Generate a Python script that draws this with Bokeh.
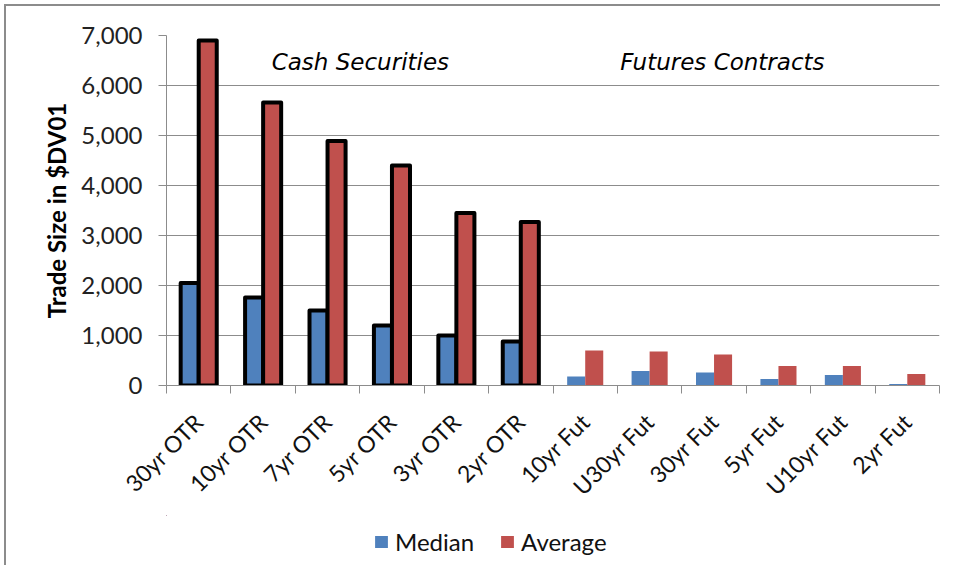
import math
from bokeh.plotting import figure
from bokeh.layouts import column
from bokeh.models import (Range1d, FixedTicker, NumeralTickFormatter, Legend, LegendItem,
                          Label, ColumnDataSource)
from bokeh.embed import file_html
from bokeh.resources import INLINE

categories = ["30yr OTR", "10yr OTR", "7yr OTR", "5yr OTR", "3yr OTR", "2yr OTR",
              "10yr Fut", "U30yr Fut", "30yr Fut", "5yr Fut", "U10yr Fut", "2yr Fut"]
median = [2050, 1760, 1500, 1200, 1000, 880, 180, 290, 260, 130, 210, 30]
average = [6900, 5660, 4890, 4400, 3450, 3270, 700, 680, 620, 390, 390, 230]
n_cash = 6
y_ticks = [0, 1000, 2000, 3000, 4000, 5000, 6000, 7000]
series_names = ["Median", "Average"]

BLUE = "#4F81BD"
RED = "#C0504D"
GRID = "#8c8c8c"
FONT = "Lato"
FONT2 = "DejaVu Sans"

n = len(categories)
centers = list(range(n))
bounds = [i - 0.5 for i in range(n + 1)]
bw = 0.28

p = figure(width=934, height=509, output_backend="svg", toolbar_location=None,
           x_range=Range1d(-0.5, n - 0.5), y_range=Range1d(0, 7000),
           min_border_left=160, min_border_right=1, min_border_top=29, min_border_bottom=130)
p.outline_line_color = None
p.background_fill_color = "white"
p.border_fill_color = "white"

cash = ColumnDataSource(dict(xm=[c - bw / 2 for c in centers[:n_cash]],
                             xa=[c + bw / 2 for c in centers[:n_cash]],
                             med=median[:n_cash], avg=average[:n_cash]))
fut = ColumnDataSource(dict(xm=[c - bw / 2 for c in centers[n_cash:]],
                            xa=[c + bw / 2 for c in centers[n_cash:]],
                            med=median[n_cash:], avg=average[n_cash:]))

p.vbar(x="xm", top="med", bottom=0, width=bw, source=fut, fill_color=BLUE, line_color=None)
p.vbar(x="xa", top="avg", bottom=0, width=bw, source=fut, fill_color=RED, line_color=None)
p.vbar(x="xm", top="med", bottom=0, width=bw, source=cash, fill_color=BLUE,
       line_color="black", line_width=4, line_join="round")
p.vbar(x="xa", top="avg", bottom=0, width=bw, source=cash, fill_color=RED,
       line_color="black", line_width=4, line_join="round")

# x axis
xa = p.xaxis[0]
xa.ticker = FixedTicker(ticks=centers, minor_ticks=bounds)
xa.major_label_overrides = {c: lab for c, lab in zip(centers, categories)}
xa.major_label_orientation = math.pi / 4
xa.major_tick_out = 0
xa.major_tick_in = 0
xa.minor_tick_out = 8
xa.minor_tick_in = 0
xa.minor_tick_line_color = GRID
xa.axis_line_color = GRID
xa.major_label_text_font = FONT
xa.major_label_text_font_size = "23px"
xa.major_label_text_color = "#111111"
xa.major_label_standoff = 24

# y axis
ya = p.yaxis[0]
ya.ticker = FixedTicker(ticks=y_ticks)
ya.formatter = NumeralTickFormatter(format="0,0")
ya.major_tick_out = 8
ya.major_tick_in = 0
ya.minor_tick_line_color = None
ya.major_tick_line_color = GRID
ya.axis_line_color = GRID
ya.major_label_text_font = FONT
ya.major_label_text_font_size = "24px"
ya.major_label_text_color = "#222222"
ya.major_label_standoff = 16
ya.axis_label = "Trade Size in $DV01"
ya.axis_label_text_font = FONT
ya.axis_label_text_font_style = "bold"
ya.axis_label_text_font_size = "24px"
ya.axis_label_text_color = "black"
ya.axis_label_standoff = 7

p.xgrid.grid_line_color = None
p.ygrid.grid_line_color = GRID
p.ygrid.ticker = FixedTicker(ticks=y_ticks)

p.add_layout(Label(x=2.51, y=6480, text="Cash Securities", text_align="center",
                   text_baseline="middle", text_font=FONT2, text_font_style="italic",
                   text_font_size="23px", text_color="black"))
p.add_layout(Label(x=8.13, y=6480, text="Futures Contracts", text_align="center",
                   text_baseline="middle", text_font=FONT2, text_font_style="italic",
                   text_font_size="23px", text_color="black"))

# legend row (separate small figure beneath the chart; its series are kept out of view)
lf = figure(width=934, height=50, output_backend="svg", toolbar_location=None,
            x_range=Range1d(1000, 1001), y_range=Range1d(-100000, -99999),
            min_border=0, min_border_left=0, min_border_right=0,
            min_border_top=0, min_border_bottom=0)
lf.axis.visible = False
lf.grid.grid_line_color = None
lf.outline_line_color = None
r_m = lf.vbar(x="xm", top="med", bottom=0, width=bw, source=fut, fill_color=BLUE, line_color=None)
r_a = lf.vbar(x="xa", top="avg", bottom=0, width=bw, source=fut, fill_color=RED, line_color=None)
legend = Legend(items=[LegendItem(label=series_names[0], renderers=[r_m]),
                       LegendItem(label=series_names[1], renderers=[r_a])],
                orientation="horizontal", location=(207, 9))
legend.label_text_font = FONT
legend.label_text_font_size = "24px"
legend.label_text_color = "#111111"
legend.glyph_width = 16
legend.glyph_height = 15
legend.label_standoff = 6
legend.spacing = 25
legend.padding = 0
legend.margin = 0
legend.border_line_color = None
legend.background_fill_alpha = 0
lf.add_layout(legend, "center")

layout = column(p, lf, spacing=0)
layout.styles = {"border-left": "2px solid #8c8c8c", "border-top": "2px solid #8c8c8c",
                 "margin-left": "4px", "margin-top": "4px"}
open("out.html", "w").write(file_html(layout, INLINE))
